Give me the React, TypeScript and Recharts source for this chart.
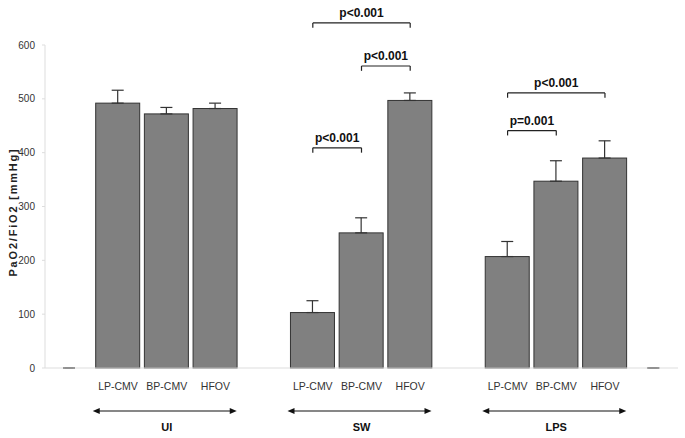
import { BarChart, Bar, XAxis, YAxis, ErrorBar, ReferenceLine } from 'recharts'

// slot keys (first and last are empty end slots drawn as dashes)
const slots = ['start', 'UI-LP', 'UI-BP', 'UI-HF', 'gap1', 'SW-LP', 'SW-BP', 'SW-HF', 'gap2', 'LPS-LP', 'LPS-BP', 'LPS-HF', 'end']
const modeLabels = ['', 'LP-CMV', 'BP-CMV', 'HFOV', '', 'LP-CMV', 'BP-CMV', 'HFOV', '', 'LP-CMV', 'BP-CMV', 'HFOV', '']
const means: (number | null)[] = [0, 492, 472, 482, null, 103, 251, 497, null, 207, 347, 390, 0]
const errors: (number | null)[] = [0, 24, 12, 10, null, 22, 28, 14, null, 28, 38, 32, 0]
const groupLabels: Record<string, string> = { 'UI-BP': 'UI', 'SW-BP': 'SW', 'LPS-BP': 'LPS' }

const yTicks = [0, 100, 200, 300, 400, 500, 600]

const brackets = [
  { from: 'SW-LP', to: 'SW-HF', y: 641, text: 'p<0.001' },
  { from: 'SW-BP', to: 'SW-HF', y: 561, text: 'p<0.001' },
  { from: 'SW-LP', to: 'SW-BP', y: 409, text: 'p<0.001' },
  { from: 'LPS-LP', to: 'LPS-HF', y: 511, text: 'p<0.001' },
  { from: 'LPS-LP', to: 'LPS-BP', y: 441, text: 'p=0.001' },
]
const legDrop = 9

const data = slots.map((key, i) => ({
  key,
  mode: modeLabels[i],
  value: means[i],
  err: errors[i] == null ? null : [0, errors[i]],
}))

const FONT = '"Liberation Sans", Arial, sans-serif'

const BarShape = (props: any) => {
  const { x, y, width, height, value } = props
  if (value == null) return null
  if (!value) {
    const cx = x + width / 2
    return <line x1={cx - 4} x2={cx + 4} y1={y} y2={y} stroke="#999" strokeWidth={1.5} />
  }
  return <rect x={x} y={y} width={width} height={height} fill="#808080" stroke="#333" strokeWidth={1} />
}

const XTick = (props: any) => {
  const { x, y, payload, index } = props
  const label = modeLabels[index] ?? ''
  const group = groupLabels[payload.value]
  return (
    <g>
      <text x={x} y={y + 14} textAnchor="middle" fontSize={10.5} fill="#333" fontFamily={FONT}>{label}</text>
      {group && (
        <g>
          <line x1={x - 71} x2={x + 67} y1={y + 35} y2={y + 35} stroke="#111" strokeWidth={1.2} />
          <path d={`M${x - 74},${y + 35} l7,-3 l0,6 z`} fill="#111" />
          <path d={`M${x + 70},${y + 35} l-7,-3 l0,6 z`} fill="#111" />
          <text x={x} y={y + 55} textAnchor="middle" fontSize={11} fontWeight="bold" fill="#111" fontFamily={FONT}>{group}</text>
        </g>
      )}
    </g>
  )
}

const YLabel = () => (
  <text x={13} y={212} transform="rotate(-90, 13, 212)" textAnchor="middle" dominantBaseline="central" fontSize={11} fontWeight="bold" letterSpacing={1.8} fill="#222" fontFamily={FONT}>
    PaO2/FiO2 [mmHg]
  </text>
)

export default function App() {
  return (
    <div style={{ position: 'absolute', left: 0, top: 0, background: '#fff' }}>
      <BarChart
        width={685}
        height={438}
        data={data}
        margin={{ top: 45, right: 7, left: 0, bottom: 10 }}
        barSize={44}
      >
        <XAxis
          dataKey="key"
          interval={0}
          height={60}
          tickLine={false}
          axisLine={{ stroke: '#ddd' }}
          tick={<XTick />}
        />
        <YAxis
          domain={[0, 600]}
          ticks={yTicks}
          width={45}
          tickSize={3}
          tickMargin={7}
          tickLine={{ stroke: '#ddd' }}
          axisLine={{ stroke: '#ddd' }}
          tick={{ fontSize: 10, fill: '#333', fontFamily: FONT }}
          label={<YLabel />}
        />
        <Bar dataKey="value" isAnimationActive={false} shape={<BarShape />}>
          <ErrorBar dataKey="err" width={6} stroke="#333" strokeWidth={1.2} direction="y" />
        </Bar>
        {brackets.map((b, i) => (
          <ReferenceLine
            key={`h-${i}`}
            ifOverflow="visible"
            segment={[{ x: b.from, y: b.y }, { x: b.to, y: b.y }]}
            stroke="#222"
            strokeWidth={1.2}
            label={{ value: b.text, position: 'top', fontSize: 12, fontWeight: 'bold', fill: '#111', fontFamily: FONT, offset: 6 }}
          />
        ))}
        {brackets.map((b, i) => (
          <ReferenceLine
            key={`l-${i}`}
            ifOverflow="visible"
            segment={[{ x: b.from, y: b.y }, { x: b.from, y: b.y - legDrop }]}
            stroke="#222"
            strokeWidth={1.2}
          />
        ))}
        {brackets.map((b, i) => (
          <ReferenceLine
            key={`r-${i}`}
            ifOverflow="visible"
            segment={[{ x: b.to, y: b.y }, { x: b.to, y: b.y - legDrop }]}
            stroke="#222"
            strokeWidth={1.2}
          />
        ))}
      </BarChart>
    </div>
  )
}
